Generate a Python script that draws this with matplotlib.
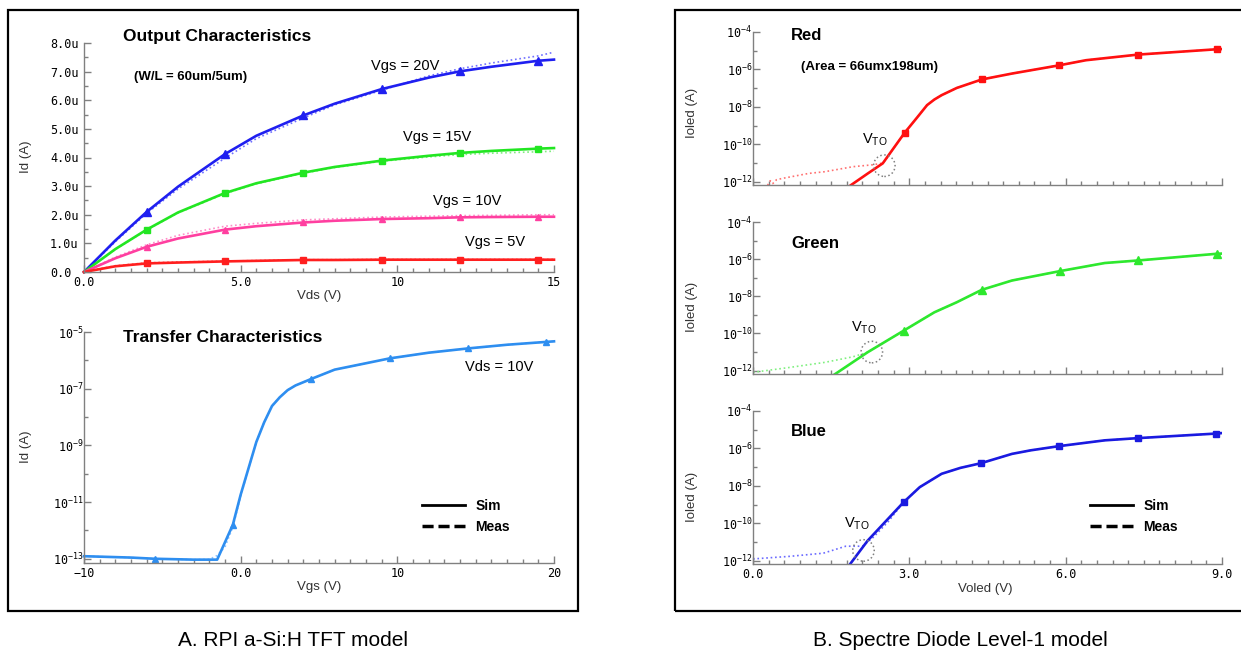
import numpy as np
import matplotlib
matplotlib.use("Agg")
import matplotlib.pyplot as plt
from matplotlib.lines import Line2D
from matplotlib.patches import Rectangle
from matplotlib.ticker import FixedLocator, MultipleLocator, NullFormatter

plt.rcParams.update({
    "font.family": ["Liberation Sans", "DejaVu Sans"],
    "mathtext.fontset": "custom",
    "mathtext.rm": "Liberation Sans",
    "mathtext.tt": "DejaVu Sans Mono",
})

# ---- A. output characteristics (Id vs Vds), values in A
vds = [0, 1, 2, 3, 4.5, 5.5, 7, 8, 9.5, 11, 12, 13, 14.5, 15]
id_20_sim = [0, 1.10e-6, 2.10e-6, 2.98e-6, 4.12e-6, 4.76e-6, 5.47e-6, 5.88e-6, 6.39e-6, 6.79e-6, 7.01e-6, 7.17e-6, 7.38e-6, 7.42e-6]
id_20_meas = [0, 1.06e-6, 2.05e-6, 2.90e-6, 3.98e-6, 4.66e-6, 5.38e-6, 5.84e-6, 6.35e-6, 6.85e-6, 7.10e-6, 7.30e-6, 7.55e-6, 7.68e-6]
id_15_sim = [0, 0.80e-6, 1.48e-6, 2.08e-6, 2.76e-6, 3.10e-6, 3.47e-6, 3.67e-6, 3.89e-6, 4.06e-6, 4.16e-6, 4.23e-6, 4.31e-6, 4.33e-6]
id_15_meas = [0, 0.79e-6, 1.47e-6, 2.06e-6, 2.74e-6, 3.08e-6, 3.45e-6, 3.65e-6, 3.87e-6, 4.02e-6, 4.10e-6, 4.15e-6, 4.20e-6, 4.22e-6]
id_10_sim = [0, 0.48e-6, 0.88e-6, 1.17e-6, 1.48e-6, 1.60e-6, 1.73e-6, 1.79e-6, 1.85e-6, 1.88e-6, 1.91e-6, 1.92e-6, 1.93e-6, 1.93e-6]
id_10_meas = [0, 0.52e-6, 0.95e-6, 1.28e-6, 1.60e-6, 1.70e-6, 1.82e-6, 1.86e-6, 1.92e-6, 1.95e-6, 1.97e-6, 1.98e-6, 2.00e-6, 2.00e-6]
id_5_sim = [0, 0.20e-6, 0.30e-6, 0.33e-6, 0.37e-6, 0.39e-6, 0.42e-6, 0.42e-6, 0.43e-6, 0.43e-6, 0.43e-6, 0.43e-6, 0.43e-6, 0.43e-6]
id_5_meas = [0, 0.22e-6, 0.32e-6, 0.35e-6, 0.38e-6, 0.40e-6, 0.43e-6, 0.43e-6, 0.44e-6, 0.44e-6, 0.44e-6, 0.44e-6, 0.44e-6, 0.44e-6]
out_marks = [2, 4, 6, 8, 10, 12]
out_xticks = [0, 5, 10, 15]
out_xticklabels = ["0.0", "5.0", "10", "15"]
out_yticks = [0, 1e-6, 2e-6, 3e-6, 4e-6, 5e-6, 6e-6, 7e-6, 8e-6]
out_yticklabels = ["0.0", "1.0u", "2.0u", "3.0u", "4.0u", "5.0u", "6.0u", "7.0u", "8.0u"]

# ---- A. transfer characteristics (Id vs Vgs, Vds = 10V)
vgs_sim = [-10, -7, -5.5, -3, -1.5, -0.5, 0, 0.5, 1, 1.5, 2, 2.5, 3, 3.5, 4.5, 6, 8, 9.5, 12, 14.5, 17, 19.5, 20]
idt_sim = [1.23e-13, 1.10e-13, 1.0e-13, 9.3e-14, 9.3e-14, 1.58e-12, 1.82e-11, 1.55e-10, 1.32e-9, 6.5e-9, 2.45e-8,
           5.0e-8, 8.9e-8, 1.3e-7, 2.2e-7, 4.7e-7, 7.9e-7, 1.17e-6, 1.86e-6, 2.63e-6, 3.55e-6, 4.47e-6, 4.68e-6]
vgs_meas = [-10, -7, -5.5, -3, -2, -1.5, -1, -0.5, 0, 0.5, 1, 1.5, 2, 2.5, 3, 3.5, 4.5, 6, 8, 9.5, 12, 14.5, 17, 19.5, 20]
idt_meas = [1.23e-13, 1.10e-13, 1.0e-13, 9.3e-14, 9.5e-14, 1.3e-13, 2.6e-13, 1.3e-12, 1.6e-11, 1.5e-10, 1.3e-9, 6.6e-9,
            2.5e-8, 5.1e-8, 9.0e-8, 1.3e-7, 2.2e-7, 4.7e-7, 7.9e-7, 1.17e-6, 1.86e-6, 2.63e-6, 3.55e-6, 4.47e-6, 4.68e-6]
tr_marks = [2, 5, 14, 17, 19, 21]
tr_xticks = [-10, 0, 10, 20]
tr_xticklabels = ["\u221210", "0.0", "10", "20"]
tr_yticks = [1e-13, 1e-11, 1e-9, 1e-7, 1e-5]
tr_yticklabels = [r"$\mathtt{10}^{\mathtt{-13}}$", r"$\mathtt{10}^{\mathtt{-11}}$", r"$\mathtt{10}^{\mathtt{-9}}$",
                  r"$\mathtt{10}^{\mathtt{-7}}$", r"$\mathtt{10}^{\mathtt{-5}}$"]

# ---- B. OLED diodes (Ioled vs Voled)
red_v_sim = [1.82, 2.2, 2.49, 2.91, 3.15, 3.34, 3.48, 3.62, 3.91, 4.39, 4.97, 5.88, 6.39, 7.39, 8.91, 9.0]
red_i_sim = [5.0e-13, 2.7e-12, 9.5e-12, 4.1e-10, 2.7e-9, 1.23e-8, 2.45e-8, 4.2e-8, 1.02e-7, 2.9e-7, 6.0e-7, 1.66e-6,
             3.1e-6, 6.2e-6, 1.2e-5, 1.22e-5]
red_v_meas = [0.28, 0.33, 0.38, 0.45, 0.57, 1.07, 1.38, 1.92, 2.31, 2.5, 2.6, 2.91, 3.15, 3.34, 3.48, 3.62, 3.91, 4.39,
              4.97, 5.88, 6.39, 7.39, 8.91, 9.0]
red_i_meas = [6.3e-13, 1.12e-12, 7.9e-13, 1.26e-12, 1.5e-12, 2.75e-12, 3.4e-12, 6.3e-12, 8.0e-12, 1.0e-11, 2.5e-11, 4.1e-10,
              2.7e-9, 1.23e-8, 2.45e-8, 4.2e-8, 1.02e-7, 2.9e-7, 6.0e-7, 1.66e-6, 3.1e-6, 6.2e-6, 1.2e-5, 1.22e-5]
red_marks = [3, 9, 11, 13, 14]

grn_v_sim = [1.45, 2.2, 2.89, 3.48, 3.91, 4.39, 4.97, 5.9, 6.75, 7.39, 8.9, 9.0]
grn_i_sim = [3.8e-13, 9.8e-12, 1.41e-10, 1.38e-9, 4.8e-9, 2.24e-8, 7.1e-8, 2.3e-7, 6.2e-7, 8.5e-7, 1.95e-6, 2.0e-6]
grn_v_meas = [0, 0.71, 1.38, 1.92, 2.2, 2.89, 3.48, 3.91, 4.39, 4.97, 5.9, 6.75, 7.39, 8.9, 9.0]
grn_i_meas = [8.1e-13, 1.5e-12, 2.8e-12, 5.6e-12, 9.8e-12, 1.41e-10, 1.38e-9, 4.8e-9, 2.24e-8, 7.1e-8, 2.3e-7, 6.2e-7, 8.5e-7, 1.95e-6, 2.0e-6]
grn_marks = [2, 5, 7, 9, 10]

blu_v_sim = [1.8, 2.2, 2.89, 3.2, 3.62, 3.98, 4.375, 4.97, 5.33, 5.88, 6.75, 7.39, 8.88, 9.0]
blu_i_sim = [3.8e-13, 1.17e-11, 1.33e-9, 8.5e-9, 4.4e-8, 9.1e-8, 1.62e-7, 5.1e-7, 7.9e-7, 1.33e-6, 2.7e-6, 3.55e-6, 6.2e-6, 6.6e-6]
blu_v_meas = [0, 0.71, 1.35, 1.78, 2.1, 2.31, 2.6, 2.89, 3.2, 3.62, 3.98, 4.375, 4.97, 5.33, 5.88, 6.75, 7.39, 8.88, 9.0]
blu_i_meas = [1.23e-12, 1.7e-12, 2.5e-12, 5.9e-12, 5.9e-12, 1.78e-11, 1.26e-10, 1.33e-9, 8.5e-9, 4.4e-8, 9.1e-8, 1.62e-7,
              5.1e-7, 7.9e-7, 1.33e-6, 2.7e-6, 3.55e-6, 6.2e-6, 6.6e-6]
blu_marks = [2, 6, 9, 11, 12]

# V_TO circles and labels (data coords)
vto_circle = {"red": (2.52, 7.1e-12), "green": (2.28, 1.0e-11), "blue": (2.12, 3.5e-12)}
vto_label = {"red": (2.34, 1.66e-10), "green": (2.13, 2.1e-10), "blue": (1.99, 9.1e-11)}

oled_xticks = [0, 3, 6, 9]
oled_xticklabels = ["0.0", "3.0", "6.0", "9.0"]
oled_yticks = [1e-12, 1e-10, 1e-8, 1e-6, 1e-4]
oled_yticklabels = [r"$\mathtt{10}^{\mathtt{-12}}$", r"$\mathtt{10}^{\mathtt{-10}}$", r"$\mathtt{10}^{\mathtt{-8}}$",
                    r"$\mathtt{10}^{\mathtt{-6}}$", r"$\mathtt{10}^{\mathtt{-4}}$"]

W, H = 1241, 659
fig = plt.figure(figsize=(W / 100, H / 100), dpi=100)
fig.patch.set_facecolor("white")


def fx(x):
    return x / W


def fy(y):
    return 1 - y / H


def box(x0, y0, x1, y1):
    return [fx(x0), fy(y1), fx(x1) - fx(x0), fy(y0) - fy(y1)]


MONO = "DejaVu Sans Mono"
TICKSIZE = 8.5
LW = 1.9


def style(ax):
    for s in ["top", "right"]:
        ax.spines[s].set_visible(False)
    for s in ["left", "bottom"]:
        ax.spines[s].set_color("#808080")
        ax.spines[s].set_linewidth(1.0)
    ax.set_facecolor("none")
    ax.tick_params(which="both", direction="in", color="#808080", labelcolor="black", width=1)
    ax.tick_params(which="major", length=5)
    ax.tick_params(which="minor", length=3)
    ax.tick_params(axis="x", pad=3)


# panel frames
fig.add_artist(Rectangle((fx(8), fy(611)), fx(578) - fx(8), fy(10) - fy(611), transform=fig.transFigure,
                         fill=False, ec="black", lw=1.6))
fig.add_artist(Rectangle((fx(675), fy(611)), fx(1250) - fx(675), fy(10) - fy(611), transform=fig.transFigure,
                         fill=False, ec="black", lw=1.6))

# ---------------- output characteristics
ax = fig.add_axes(box(84, 43, 554, 272))
style(ax)
curves = [
    (id_20_sim, id_20_meas, "#1f1ff0", "#7070ff", "^", 6),
    (id_15_sim, id_15_meas, "#22e622", "#80ee80", "s", 5),
    (id_10_sim, id_10_meas, "#ff3fa0", "#ff8cc8", "^", 5),
    (id_5_sim, id_5_meas, "#ff1f1f", "#ff7a7a", "s", 4),
]
for sim, meas, c, cm, mk, ms in curves:
    ax.plot(vds, meas, ls=":", lw=1.2, color=cm, clip_on=False)
    ax.plot(vds, sim, lw=LW, color=c, marker=mk, ms=ms, markevery=out_marks, clip_on=False)
ax.set_xlim(0, 15)
ax.set_ylim(0, 8e-6)
ax.set_xticks(out_xticks, out_xticklabels, fontfamily=MONO, fontsize=TICKSIZE)
ax.set_yticks(out_yticks, out_yticklabels, fontfamily=MONO, fontsize=TICKSIZE, ha="left")
ax.tick_params(axis="y", pad=24.5)
ax.xaxis.set_minor_locator(MultipleLocator(0.5))
ax.yaxis.set_minor_locator(MultipleLocator(0.5e-6))

# ---------------- transfer characteristics
ax = fig.add_axes(box(84, 332, 554, 563))
style(ax)
ax.set_yscale("log")
ax.plot(vgs_meas, idt_meas, ls=":", lw=1.2, color="#8cc4ff", clip_on=False)
ax.plot(vgs_sim, idt_sim, lw=LW, color="#2e8ef0", marker="^", ms=5, markevery=tr_marks, clip_on=False)
ax.set_xlim(-10, 20)
ax.set_ylim(10 ** -13.15, 1e-5)
ax.set_xticks(tr_xticks, tr_xticklabels, fontfamily=MONO, fontsize=TICKSIZE)
ax.set_yticks(tr_yticks, tr_yticklabels, fontsize=TICKSIZE)
ax.yaxis.set_minor_locator(FixedLocator([1e-12, 1e-10, 1e-8, 1e-6]))
ax.yaxis.set_minor_formatter(NullFormatter())
ax.xaxis.set_minor_locator(MultipleLocator(1))
ax.tick_params(axis="y", pad=0.5)

# ---------------- OLED panels
oled = [
    ("red", (753, 32, 1222, 185), red_v_sim, red_i_sim, red_v_meas, red_i_meas, "#ff1010", "#ff7070", "s", 4, red_marks),
    ("green", (753, 222, 1222, 374), grn_v_sim, grn_i_sim, grn_v_meas, grn_i_meas, "#2ee82e", "#80f080", "^", 6, grn_marks),
    ("blue", (753, 411, 1222, 564), blu_v_sim, blu_i_sim, blu_v_meas, blu_i_meas, "#1a1ae0", "#6a6aff", "s", 5, blu_marks),
]
for name, pos, vs, isim, vm, imeas, c, cm, mk, ms, marks in oled:
    ax = fig.add_axes(box(*pos))
    style(ax)
    ax.set_yscale("log")
    ax.plot(vm, imeas, ls=":", lw=1.2, color=cm)
    ax.plot(vs, isim, lw=LW, color=c, marker=mk, ms=ms, markevery=marks)
    cx, cy = vto_circle[name]
    ax.scatter([cx], [cy], s=240, facecolors="none", edgecolors="#808080", linestyles=":", linewidths=1.1, zorder=5)
    lx, ly = vto_label[name]
    ax.text(lx, ly, r"V$_{\mathrm{TO}}$", fontsize=10.5, ha="center", va="center")
    ax.set_xlim(0, 9)
    ax.set_ylim(10 ** -12.18, 1e-4)
    if name == "blue":
        ax.set_xticks(oled_xticks, oled_xticklabels, fontfamily=MONO, fontsize=TICKSIZE)
    else:
        ax.set_xticks(oled_xticks, [""] * len(oled_xticks))
    ax.xaxis.set_minor_locator(FixedLocator(np.arange(0, 9.01, 0.3)))
    ax.set_yticks(oled_yticks, oled_yticklabels, fontsize=TICKSIZE)
    ax.yaxis.set_minor_locator(FixedLocator([1e-11, 1e-9, 1e-7, 1e-5]))
    ax.yaxis.set_minor_formatter(NullFormatter())
    ax.tick_params(axis="y", pad=0.5)

# ---------------- texts
def t(x, y, s, **kw):
    kw.setdefault("va", "center")
    kw.setdefault("ha", "left")
    fig.text(fx(x), fy(y), s, **kw)


t(123, 37, "Output Characteristics", fontsize=12.5, weight="bold")
t(134, 77, "(W/L = 60um/5um)", fontsize=9.5, weight="bold")
t(371, 66, "Vgs = 20V", fontsize=10.5)
t(403, 137, "Vgs = 15V", fontsize=10.5)
t(433, 201, "Vgs = 10V", fontsize=10.5)
t(465, 242, "Vgs = 5V", fontsize=10.5)
t(123, 338, "Transfer Characteristics", fontsize=12.5, weight="bold")
t(465, 367, "Vds = 10V", fontsize=10.5)
t(791, 36, "Red", fontsize=12, weight="bold")
t(801, 67, "(Area = 66umx198um)", fontsize=9.5, weight="bold")
t(791, 243, "Green", fontsize=12, weight="bold")
t(791, 432, "Blue", fontsize=12, weight="bold")

lab = dict(fontsize=9.5, color="#333333", ha="center")
t(319, 296, "Vds (V)", **lab)
t(319, 587, "Vgs (V)", **lab)
t(985, 589, "Voled (V)", **lab)
t(26, 157, "Id (A)", rotation=90, **lab)
t(26, 447, "Id (A)", rotation=90, **lab)
for yy in (113, 307, 497):
    t(692, yy, "Ioled (A)", rotation=90, **lab)

t(293, 641, "A. RPI a-Si:H TFT model", fontsize=15, ha="center")
t(960, 641, "B. Spectre Diode Level-1 model", fontsize=15, ha="center")

# legends
handles = [Line2D([], [], color="black", lw=2), Line2D([], [], color="black", lw=2.5, ls=(0, (3.2, 1.4)))]
for lx, ly in ((422, 499), (1090, 499)):
    fig.legend(handles, ["Sim", "Meas"], loc="upper left", bbox_to_anchor=(fx(lx), fy(ly)), frameon=False,
               handlelength=3.1, handletextpad=0.75, labelspacing=0.5, borderpad=0, borderaxespad=0,
               prop={"weight": "bold", "size": 10})

fig.savefig("out.png", dpi=100)
